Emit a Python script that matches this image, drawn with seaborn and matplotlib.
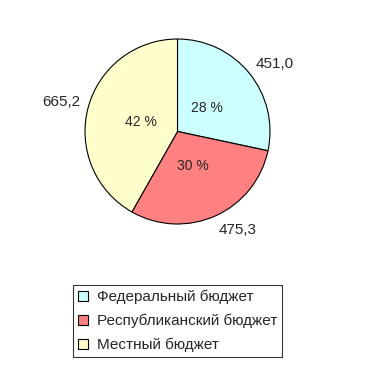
import matplotlib
matplotlib.use("Agg")
import matplotlib.pyplot as plt
import seaborn as sns

categories = ["Федеральный бюджет", "Республиканский бюджет", "Местный бюджет"]
values = [451.0, 475.3, 665.2]
value_labels = ["451,0", "475,3", "665,2"]
colors = ["#CCFFFF", "#FF8080", "#FFFFCC"]

sns.set_style("white")
plt.rcParams["font.family"] = ["Liberation Sans", "DejaVu Sans"]

fig = plt.figure(figsize=(3.65, 3.78), dpi=100)
r = 92.5
cx, cy = 177.5, 131.5
ax = fig.add_axes([(cx - r) / 365, 1 - (cy + r) / 378, 2 * r / 365, 2 * r / 378])

palette = sns.color_palette(colors)
wedges, texts, autotexts = ax.pie(
    values,
    labels=value_labels,
    colors=palette,
    startangle=90,
    counterclock=False,
    autopct=lambda p: f"{p:.0f} %",
    pctdistance=0.41,
    labeldistance=1.09,
    wedgeprops=dict(edgecolor="black", linewidth=0.8),
    textprops=dict(fontsize=10),
)
for t in texts:
    t.set_fontsize(11)
    x, y = t.get_position()
    t.set_ha("left" if x > 0 else "right")
    t.set_va("baseline" if y > 0 else "top")
ax.set_aspect("equal")
ax.set_xlim(-1, 1)
ax.set_ylim(-1, 1)

leg = fig.legend(
    wedges, categories,
    loc="upper left",
    bbox_to_anchor=(73 / 365, 1 - 285 / 378),
    bbox_transform=fig.transFigure,
    borderaxespad=0,
    fancybox=False,
    frameon=True,
    edgecolor="black",
    fontsize=11,
    handlelength=0.65,
    handleheight=0.65,
    handletextpad=0.6,
    labelspacing=0.62,
    borderpad=0.32,
)
leg.get_frame().set_linewidth(0.8)
for h in leg.legend_handles:
    h.set_edgecolor("black")
    h.set_linewidth(0.8)

fig.savefig("out.png", dpi=100)
